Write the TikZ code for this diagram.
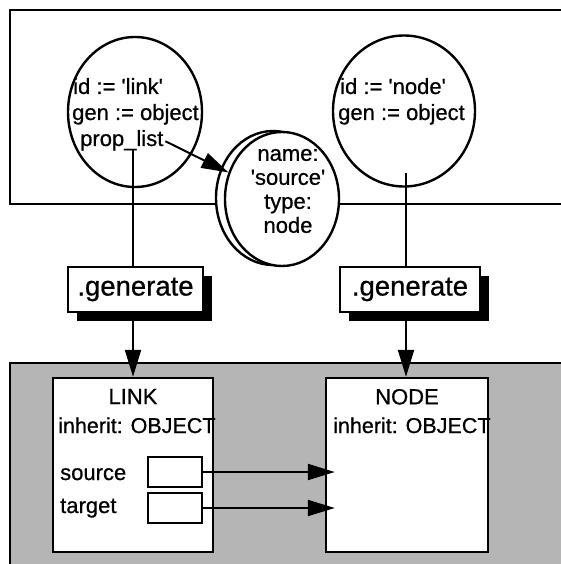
\documentclass[tikz,border=0pt]{standalone}
\usepackage{fontspec}
\setmainfont{Liberation Sans}[FakeBold=0.7]
\usetikzlibrary{positioning,arrows.meta,shadows,shapes.geometric}
\newcommand\sq{\textquotesingle}
\tikzset{
  frame/.style={draw, line width=1.6pt},
  inst/.style={ellipse, draw, line width=2.4pt, inner sep=0pt},
  txt/.style={inner sep=0pt, font=\fontsize{22}{26}\selectfont},
  gen/.style={draw, line width=1.6pt, fill=white, minimum height=45pt,
    inner sep=0pt, font=\fontsize{27.5}{30}\selectfont,
    drop shadow={shadow xshift=9pt, shadow yshift=-9pt, opacity=1, fill=black}},
  cls/.style={draw, line width=2.4pt, fill=white, minimum height=174pt, inner sep=0pt},
  slot/.style={draw, line width=1.6pt, minimum width=54pt, minimum height=30pt, inner sep=0pt},
  ptr/.style={-{Triangle[length=27pt,width=16pt]}, line width=2pt},
}

\begin{document}
\begin{tikzpicture}[x=1pt,y=-1pt]
\useasboundingbox (0,0) rectangle (560,564);
% object level and class level
\draw[frame] (10,10) rectangle (575,204);
\draw[frame, fill=black!29] (10,363) rectangle (575,566);

% instances
\node[inst, minimum width=134pt, minimum height=150pt] (linkobj) at (135,112) {};
\node[inst, minimum width=142pt, minimum height=151pt] (nodeobj) at (404,111) {};
\node[txt, anchor=base west] (linkid) at (73,94) {id := \sq link\sq};
\node[txt, anchor=base west] (linkgen) at (72,120) {gen := object};
\node[txt, anchor=base west] (plist) at (80,146) {prop\_list};
\node[txt, anchor=base west] (nodeid) at (340,94) {id := \sq node\sq};
\node[txt, anchor=base west] (nodegen) at (338,120) {gen := object};

% property record
\node[inst, fill=white, minimum width=114pt, minimum height=134pt] (propback) at (273,198) {};
\node[inst, fill=white, minimum width=114pt, minimum height=134pt] (prop) at (282,199) {};
\node[txt, align=center, font=\fontsize{22}{24}\selectfont] (proptxt) at (288,191)
  {name:\\\sq source\sq\\type:\\node};
\draw[ptr, shorten <=2pt] (plist.east) -- (prop);

% generate
\coordinate (plistfoot) at (133,150);
\coordinate (nodefoot) at (406,173);
\node[gen, minimum width=135pt] (genlink) at (135.5,289.5) {.generate};
\node[gen, minimum width=140pt] (gennode) at (410,289.5) {.generate};
\draw[line width=2pt] (plistfoot) -- (plistfoot |- genlink.north);
\draw[line width=2pt] (nodefoot) -- (nodefoot |- gennode.north);

% classes
\node[cls, minimum width=160pt] (linkcls) at (133,465) {};
\node[cls, minimum width=162pt] (nodecls) at (407,465) {};
\draw[ptr] (plistfoot |- genlink.south) -- (plistfoot |- linkcls.north);
\draw[ptr] (nodefoot |- gennode.south) -- (nodefoot |- nodecls.north);

\node[txt] (linkname) [below=12pt of linkcls.north] {LINK};
\node[txt, anchor=base west, font=\fontsize{21.5}{26}\selectfont] (linkinh) at (58,433) {inherit: OBJECT};
\node[txt, anchor=base west] (srclbl) at (60,480) {source};
\node[txt, anchor=base west] (tgtlbl) at (60,513) {target};
\node[slot] (srcslot) at (175,472) {};
\node[slot] (tgtslot) at (175,508) {};
\node[txt] (nodename) [below=12pt of nodecls.north] {NODE};
\node[txt, anchor=base west, font=\fontsize{21.5}{26}\selectfont] (nodeinh) at (333,433) {inherit: OBJECT};

\draw[ptr, shorten >=-10pt] (srcslot.east) -- (srcslot.east -| nodecls.west);
\draw[ptr, shorten >=-10pt] (tgtslot.east) -- (tgtslot.east -| nodecls.west);
\end{tikzpicture}
\end{document}
